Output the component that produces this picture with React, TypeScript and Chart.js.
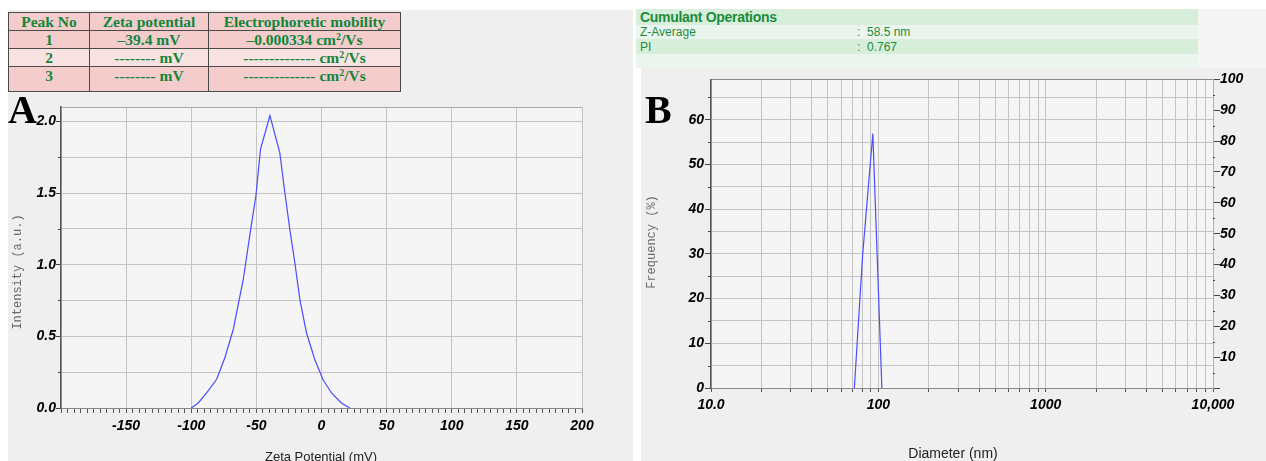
import React, { useEffect, useRef } from "react";
import { Chart, registerables } from "chart.js";
Chart.register(...registerables);

// ---------- Data ----------
const zetaPotential = [-100, -94.6, -88.2, -80.5, -74.2, -67.8, -60.1, -54.4, -50.4, -46.8, -39.6, -32.0, -28.1, -24.3, -20.4, -16.6, -11.5, -5.1, 1.2, 7.7, 15.3, 21.7];
const zetaIntensity = [0, 0.035, 0.105, 0.2, 0.35, 0.546, 0.895, 1.244, 1.477, 1.807, 2.04, 1.78, 1.5, 1.244, 1.01, 0.756, 0.523, 0.337, 0.197, 0.105, 0.035, 0];
const zetaXLabelTicks = [-150, -100, -50, 0, 50, 100, 150, 200];
const intensityLabelTicks = [0, 0.5, 1.0, 1.5, 2.0];

const diameterNm = [71.9, 80.7, 92.7, 105];
const frequencyPct = [0, 30.1, 56.9, 0];
const diameterMajor = [10, 100, 1000, 10000];
const diameterLabels = ["10.0", "100", "1000", "10,000"];
const freqLabelTicks = [0, 10, 20, 30, 40, 50, 60];
const cumulativeLabelTicks = [10, 20, 30, 40, 50, 60, 70, 80, 90, 100];

const tableHeader = ["Peak No", "Zeta potential", "Electrophoretic mobility"];
const peakNo = ["1", "2", "3"];
const peakZeta = ["\u201339.4 mV", "-------- mV", "-------- mV"];
const peakMobility = ["\u20130.000334 cm", "-------------- cm", "-------------- cm"];

const cumulantTitle = "Cumulant Operations";
const cumulantNames = ["Z-Average", "PI"];
const cumulantValues = [":  58.5 nm", ":  0.767"];

// ---------- Styles ----------
const SANS = "Arial, 'Liberation Sans', sans-serif";
const MONO = "'Courier New', 'Liberation Mono', monospace";
const SERIF = "'Times New Roman', 'Liberation Serif', serif";
const GRID = "#c4c4c4";
const tickFont = { family: SANS, size: 14, weight: "bold" as const, style: "italic" as const };

const plotBg = {
  id: "plotBg",
  beforeDraw(chart: any, _a: any, opts: any) {
    const { ctx, chartArea } = chart;
    ctx.save();
    ctx.fillStyle = opts.color || "#f5f5f5";
    ctx.fillRect(chartArea.left, chartArea.top, chartArea.width, chartArea.height);
    ctx.restore();
  },
};

const minorTicks = {
  id: "minorTicks",
  afterDraw(chart: any, _a: any, opts: any) {
    const list = opts.list || [];
    const { ctx } = chart;
    ctx.save();
    ctx.strokeStyle = "#444";
    ctx.lineWidth = 1;
    for (const m of list) {
      const s = chart.scales[m.axis];
      for (const v of m.values) {
        const y = Math.round(s.getPixelForValue(v)) + 0.5;
        ctx.beginPath();
        if (m.side === "left") {
          ctx.moveTo(s.right, y);
          ctx.lineTo(s.right - m.len, y);
        } else {
          ctx.moveTo(s.left, y);
          ctx.lineTo(s.left + m.len, y);
        }
        ctx.stroke();
      }
    }
    ctx.restore();
  },
};

function range(a: number, b: number, step: number) {
  const out: number[] = [];
  for (let v = a; v <= b + 1e-9; v += step) out.push(Math.round(v * 1000) / 1000);
  return out;
}

function ZetaChart() {
  const ref = useRef<HTMLCanvasElement>(null);
  useEffect(() => {
    const xTicks = range(-200, 200, 5);
    const yTicks = [...range(0, 2, 0.25), 2.1];
    const yMinor = range(0, 2, 0.25).filter((v) => !intensityLabelTicks.includes(v));
    const chart = new Chart(ref.current!, {
      type: "line",
      data: {
        datasets: [
          {
            data: zetaPotential.map((x, i) => ({ x, y: zetaIntensity[i] })),
            borderColor: "#4b4bff",
            borderWidth: 1.2,
            pointRadius: 0,
            tension: 0,
            fill: false,
          },
        ],
      },
      options: {
        animation: false,
        responsive: false,
        events: [],
        layout: { padding: { top: 14, right: 51, left: 0, bottom: 0 } },
        plugins: {
          legend: { display: false },
          tooltip: { enabled: false },
          plotBg: { color: "#f5f5f5" },
          minorTicks: { list: [{ axis: "y", values: yMinor, len: 3, side: "left" }] },
        } as any,
        scales: {
          x: {
            type: "linear",
            min: -200,
            max: 200,
            afterBuildTicks: (s: any) => {
              s.ticks = xTicks.map((v) => ({ value: v }));
            },
            afterFit: (s: any) => {
              s.height = 53;
            },
            ticks: {
              autoSkip: false,
              maxRotation: 0,
              minRotation: 0,
              padding: 5,
              color: "#000",
              font: tickFont,
              callback: (v: any) => (zetaXLabelTicks.includes(Number(v)) ? String(v) : ""),
            },
            grid: {
              color: (c: any) => (c.tick && c.tick.value % 50 === 0 ? GRID : "transparent"),
              tickColor: "#555",
              tickLength: 5,
              lineWidth: 1,
            },
            border: { color: "#888", width: 1 },
          },
          y: {
            type: "linear",
            min: 0,
            max: 2.1,
            afterBuildTicks: (s: any) => {
              s.ticks = yTicks.map((v) => ({ value: v }));
            },
            afterFit: (s: any) => {
              s.width = 53;
            },
            ticks: {
              autoSkip: false,
              padding: 0,
              color: "#000",
              font: tickFont,
              callback: (v: any) => (intensityLabelTicks.includes(Number(v)) ? Number(v).toFixed(1) : ""),
            },
            grid: {
              color: (c: any) => (c.tick && c.tick.value === 2.1 ? "#a8a8a8" : GRID),
              tickColor: (c: any) => (c.tick && intensityLabelTicks.includes(c.tick.value) ? "#444" : "transparent"),
              tickLength: 5,
              lineWidth: 1,
            },
            border: { color: "#555", width: 1.5 },
          },
        },
      },
      plugins: [plotBg, minorTicks],
    } as any);
    return () => chart.destroy();
  }, []);
  return <canvas ref={ref} width={625} height={368} style={{ position: "absolute", left: 8, top: 93, width: 625, height: 368 }} />;
}

function SizeChart() {
  const ref = useRef<HTMLCanvasElement>(null);
  useEffect(() => {
    const xTicks: number[] = [];
    for (const d of [10, 100, 1000]) for (let k = 1; k <= 9; k++) xTicks.push(d * k);
    xTicks.push(10000);
    const yTicks = [...range(0, 65, 5), 69];
    const yMinor = range(5, 65, 10);
    const y2Ticks = range(0, 100, 5);
    const y2Minor = range(5, 95, 10);
    const chart = new Chart(ref.current!, {
      type: "line",
      data: {
        datasets: [
          {
            data: diameterNm.map((x, i) => ({ x, y: frequencyPct[i] })),
            borderColor: "#4b4bff",
            borderWidth: 1.2,
            pointRadius: 0,
            tension: 0,
            fill: false,
            yAxisID: "y",
          },
        ],
      },
      options: {
        animation: false,
        responsive: false,
        events: [],
        layout: { padding: { top: 9, right: 0, left: 0, bottom: 0 } },
        plugins: {
          legend: { display: false },
          tooltip: { enabled: false },
          plotBg: { color: "#f5f5f5" },
          minorTicks: {
            list: [
              { axis: "y", values: yMinor, len: 3, side: "left" },
              { axis: "y2", values: y2Minor, len: 2, side: "right" },
            ],
          },
        } as any,
        scales: {
          x: {
            type: "logarithmic",
            min: 10,
            max: 10000,
            afterBuildTicks: (s: any) => {
              s.ticks = xTicks.map((v) => ({ value: v }));
            },
            afterFit: (s: any) => {
              s.height = 73;
            },
            ticks: {
              autoSkip: false,
              maxRotation: 0,
              minRotation: 0,
              padding: 5,
              color: "#000",
              font: tickFont,
              callback: (v: any) => {
                const i = diameterMajor.indexOf(Number(v));
                return i >= 0 ? diameterLabels[i] : "";
              },
            },
            grid: { color: GRID, tickColor: "#555", tickLength: 4, lineWidth: 1 },
            border: { color: "#888", width: 1 },
          },
          y: {
            type: "linear",
            position: "left",
            min: 0,
            max: 69,
            afterBuildTicks: (s: any) => {
              s.ticks = yTicks.map((v) => ({ value: v }));
            },
            afterFit: (s: any) => {
              s.width = 70;
            },
            ticks: {
              autoSkip: false,
              padding: 1,
              color: "#000",
              font: tickFont,
              callback: (v: any) => (freqLabelTicks.includes(Number(v)) ? String(v) : ""),
            },
            grid: {
              color: (c: any) => (c.tick && c.tick.value === 69 ? "#8a8a8a" : GRID),
              tickColor: (c: any) => (c.tick && freqLabelTicks.includes(c.tick.value) ? "#444" : "transparent"),
              tickLength: 6,
              lineWidth: 1,
            },
            border: { color: "#555", width: 1.5 },
          },
          y2: {
            type: "linear",
            position: "right",
            min: 0,
            max: 100,
            afterBuildTicks: (s: any) => {
              s.ticks = y2Ticks.map((v) => ({ value: v }));
            },
            afterFit: (s: any) => {
              s.width = 53;
            },
            ticks: {
              autoSkip: false,
              padding: 0,
              color: "#000",
              font: tickFont,
              callback: (v: any) => (cumulativeLabelTicks.includes(Number(v)) ? String(v) : ""),
            },
            grid: {
              drawOnChartArea: false,
              tickColor: (c: any) => (c.tick && c.tick.value % 10 === 0 ? "#444" : "transparent"),
              tickLength: 7,
            },
            border: { color: "#b0b0b0", width: 1 },
          },
        },
      },
      plugins: [plotBg, minorTicks],
    } as any);
    return () => chart.destroy();
  }, []);
  return <canvas ref={ref} width={625} height={391} style={{ position: "absolute", left: 641, top: 70, width: 625, height: 391 }} />;
}

const cellBase: React.CSSProperties = {
  border: "1px solid #4a4a4a",
  color: "#12853a",
  fontFamily: SERIF,
  fontWeight: "bold",
  fontSize: 15.5,
  textAlign: "center",
  verticalAlign: "top",
  padding: 0,
  lineHeight: "17px",
  whiteSpace: "nowrap",
};

function PeakTable() {
  const rowH = [18, 18, 17.5, 25];
  const rowBg = ["#f4cccc", "#f4cccc", "#f9e2e2", "#f4cccc"];
  const colW = [81, 119, 192];
  return (
    <table
      style={{
        position: "absolute",
        left: 8,
        top: 12,
        width: 392,
        borderCollapse: "collapse",
        tableLayout: "fixed",
      }}
    >
      <colgroup>
        {colW.map((w, i) => (
          <col key={i} style={{ width: w }} />
        ))}
      </colgroup>
      <tbody>
        <tr style={{ height: rowH[0], background: rowBg[0] }}>
          {tableHeader.map((h) => (
            <td key={h} style={cellBase}>{h}</td>
          ))}
        </tr>
        {peakNo.map((p, i) => (
          <tr key={p} style={{ height: rowH[i + 1], background: rowBg[i + 1] }}>
            <td style={cellBase}>{p}</td>
            <td style={cellBase}>{peakZeta[i]}</td>
            <td style={cellBase}>
              {peakMobility[i]}
              <sup style={{ fontSize: 10, lineHeight: 0, verticalAlign: "5px" }}>2</sup>/Vs
            </td>
          </tr>
        ))}
      </tbody>
    </table>
  );
}

function CumulantBox() {
  const rows = [
    { top: 9, h: 16, bg: "#d7eeda" },
    { top: 25, h: 14, bg: "#ecf5ed" },
    { top: 39, h: 15, bg: "#d7eeda" },
    { top: 54, h: 14, bg: "#ecf5ed" },
  ];
  const green = "#1a8c3c";
  return (
    <>
      {rows.map((r, i) => (
        <div key={i} style={{ position: "absolute", left: 636, top: r.top, width: 562, height: r.h, background: r.bg }} />
      ))}
      <div style={{ position: "absolute", left: 640, top: 9, height: 16, lineHeight: "16px", fontFamily: SANS, fontWeight: "bold", fontSize: 14, color: green, letterSpacing: -0.3 }}>
        {cumulantTitle}
      </div>
      {cumulantNames.map((n, i) => (
        <React.Fragment key={n}>
          <div style={{ position: "absolute", left: 640, top: 25 + i * 15, lineHeight: "14px", fontFamily: SANS, fontSize: 12, color: green }}>{n}</div>
          <div style={{ position: "absolute", left: 857, top: 25 + i * 15, lineHeight: "14px", fontFamily: SANS, fontSize: 12, color: green, whiteSpace: "pre" }}>{cumulantValues[i]}</div>
        </React.Fragment>
      ))}
    </>
  );
}

function RotText({ x, y, text }: { x: number; y: number; text: string }) {
  return (
    <div
      style={{
        position: "absolute",
        left: x,
        top: y,
        transform: "translate(-50%, -50%) rotate(-90deg)",
        fontFamily: MONO,
        fontSize: 12,
        color: "#6a6a6a",
        whiteSpace: "pre",
        lineHeight: "14px",
      }}
    >
      {text}
    </div>
  );
}

function CenterText({ x, y, text, size }: { x: number; y: number; text: string; size: number }) {
  return (
    <div
      style={{
        position: "absolute",
        left: x,
        top: y,
        transform: "translate(-50%, -50%)",
        fontFamily: SANS,
        fontSize: size,
        color: "#222",
        whiteSpace: "pre",
        lineHeight: `${size + 2}px`,
      }}
    >
      {text}
    </div>
  );
}

export default function App() {
  return (
    <div style={{ position: "fixed", left: 0, top: 0, width: 1266, height: 461, overflow: "hidden", background: "#fff" }}>
      {/* Panel A */}
      <div style={{ position: "absolute", left: 8, top: 10, width: 625, height: 451, background: "#efefef" }} />
      <PeakTable />
      <ZetaChart />
      <RotText x={18} y={272} text="Intensity (a.u.)" />
      <CenterText x={321} y={456} text="Zeta Potential (mV)" size={13} />
      <div style={{ position: "absolute", left: 8, top: 90, fontFamily: SERIF, fontWeight: "bold", fontSize: 40, lineHeight: "40px", color: "#000" }}>A</div>

      {/* Panel B */}
      <div style={{ position: "absolute", left: 641, top: 68, width: 625, height: 393, background: "#efefef" }} />
      <div style={{ position: "absolute", left: 1198, top: 9, width: 68, height: 59, background: "#f5f5f5" }} />
      <CumulantBox />
      <SizeChart />
      <RotText x={652} y={242} text="Frequency (%)" />
      <CenterText x={953} y={453} text="Diameter (nm)" size={14} />
      <div style={{ position: "absolute", left: 645, top: 90, fontFamily: SERIF, fontWeight: "bold", fontSize: 40, lineHeight: "40px", color: "#000" }}>B</div>
    </div>
  );
}
